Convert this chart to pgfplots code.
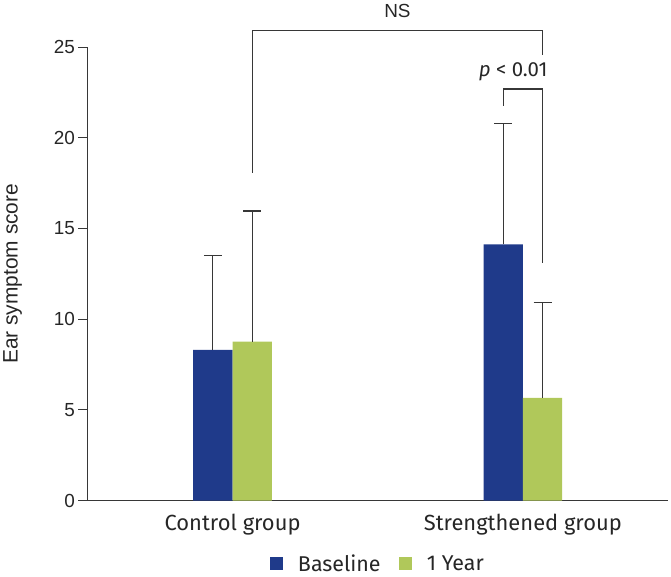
\documentclass[border=0pt]{standalone}
\usepackage{pgfplots}
\pgfplotsset{compat=1.18}
\usepackage{fontspec}
\setmainfont{Liberation Sans}
\newfontfamily\fira{Fira Sans}
\definecolor{cblue}{RGB}{31,58,138}
\definecolor{cgreen}{RGB}{176,200,90}
\definecolor{axgray}{RGB}{55,55,55}
\begin{document}
\begin{tikzpicture}
\begin{axis}[
  name=ax,
  at={(0,0)}, anchor=south west,
  scale only axis, width=583pt, height=455.4pt,
  xmin=0, xmax=2, ymin=0, ymax=25,
  clip=false,
  axis x line*=bottom, axis y line*=left,
  axis line style={axgray, line width=1.1pt},
  xtick={0.5,1.5},
  xticklabels={Control group, Strengthened group},
  minor xtick={0,1,2},
  xtick style={draw=none},
  minor x tick style={axgray, line width=1.1pt},
  ytick={0,5,10,15,20,25},
  ytick style={axgray, line width=1.1pt},
  major tick length=9pt,
  minor tick length=10pt,
  tick align=outside,
  /pgf/number format/assume math mode=true,
  yticklabel style={font=\fontsize{19}{22}\selectfont, color=black!85},
  xticklabel style={font=\fira\fontsize{22}{25}\selectfont, color=black!85, yshift=-1pt},
  ylabel={Ear symptom score},
  every axis y label/.style={at={(rel axis cs:0,0.5)}, xshift=-75pt, rotate=90, anchor=center, font=\fontsize{21}{23}\selectfont, color=black!85},
  legend columns=2,
  legend style={draw=none, at={(0.5,-0.139)}, anchor=center,
    font=\fira\fontsize{21.5}{24}\selectfont, text=black!85,
    /tikz/every even column/.append style={column sep=16pt}},
]
\addplot[ybar, bar width=39.5pt, bar shift=0pt, fill=cblue, draw=none,
  legend image code/.code={\fill[cblue] (0pt,-6.5pt) rectangle (13pt,6.5pt); \node[inner sep=0pt, draw=none, fill=none] at (26pt,0pt) {};},
  error bars/.cd, y dir=plus, y explicit,
  error bar style={axgray, line width=1.2pt},
  error mark options={rotate=90, axgray, line width=1.2pt, mark size=9pt}]
  coordinates {(0.4322,8.31) +- (0,5.22) (1.4322,14.12) +- (0,6.66)};
\addlegendentry{Baseline}
\addplot[ybar, bar width=39.5pt, bar shift=0pt, fill=cgreen, draw=none,
  legend image code/.code={\fill[cgreen] (0pt,-6.5pt) rectangle (13pt,6.5pt); \node[inner sep=0pt, draw=none, fill=none] at (26pt,0pt) {};},
  error bars/.cd, y dir=plus, y explicit,
  error bar style={axgray, line width=1.2pt},
  error mark options={rotate=90, axgray, line width=1.2pt, mark size=9pt}]
  coordinates {(0.5678,8.77) +- (0,7.20) (1.5678,5.66) +- (0,5.25)};
\addlegendentry{1 Year}
\draw[axgray, line width=1.1pt] (axis cs:0.5678,18.08) |- (axis cs:1.5678,25.9) -- (axis cs:1.5678,24.58);
\draw[axgray, line width=1.1pt] (axis cs:1.4322,21.77) |- (axis cs:1.5678,22.69) -- (axis cs:1.5678,13.09);
\node[font=\fontsize{19}{22}\selectfont, text=black!85] at (axis cs:1.068,27.0) {NS};
\node[font=\fira\fontsize{20.5}{24}\selectfont, text=black!85] at (axis cs:1.4666,23.66) {\itshape p\upshape{} < 0.01};
\end{axis}
\path[use as bounding box] ([xshift=-85pt,yshift=-72.3pt]ax.south west) rectangle ([xshift=3pt,yshift=47.3pt]ax.north east);
\end{tikzpicture}
\end{document}
